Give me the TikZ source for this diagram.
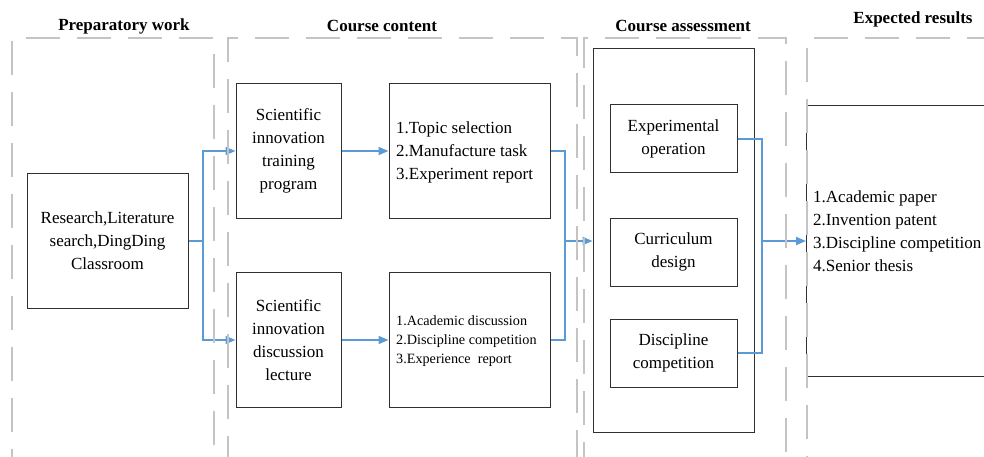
\documentclass[tikz,border=0pt]{standalone}
\usepackage{fontspec}
\setmainfont{Liberation Serif}
\usetikzlibrary{arrows.meta}
\definecolor{flowblue}{HTML}{5B9BD5}
\definecolor{lanegray}{HTML}{C4C4C4}
\definecolor{boxline}{HTML}{303030}
\tikzset{
  stepbox/.style={draw=boxline, line width=1pt, inner sep=0pt, align=center,
    font=\fontsize{17}{23}\selectfont},
  plainbox/.style={draw=boxline, line width=1pt, inner sep=0pt},
  listtext/.style={align=left, inner sep=0pt, font=\fontsize{17}{23}\selectfont},
  smalllist/.style={align=left, inner sep=0pt, font=\fontsize{14.2}{19}\selectfont},
  lanetitle/.style={inner sep=0pt, font=\fontsize{17}{20}\selectfont\bfseries},
  lane/.style={draw=lanegray, line width=2pt, dash pattern=on 34pt off 17pt},
  flow/.style={draw=flowblue, line width=1.7pt},
  flowarrow/.style={flow, -{Triangle[length=10pt,width=8pt]}},
}
\begin{document}
\begin{tikzpicture}[x=1pt,y=-1pt]
\clip (0,0) rectangle (984,457);
\fill[white] (0,0) rectangle (984,457);

% lane titles
\node[lanetitle] (t1) at (124,26) {Preparatory work};
\node[lanetitle] (t2) at (382,26) {Course content};
\node[lanetitle] (t3) at (683,26) {Course assessment};
\node[lanetitle] (t4) at (913,19) {Expected results};

% preparatory work
\node[stepbox, minimum width=161pt, minimum height=135pt] (res) at (107.5,241)
  {Research,Literature\\search,DingDing\\Classroom};

% course content
\node[stepbox, minimum width=105pt, minimum height=135pt] (train) at (288.5,151)
  {Scientific\\innovation\\training\\program};
\node[stepbox, minimum width=105pt, minimum height=135pt] (lect) at (288.5,340)
  {Scientific\\innovation\\discussion\\lecture};
\node[plainbox, minimum width=161pt, minimum height=135pt] (topic) at (469.5,151) {};
\node[listtext, anchor=west] (topictext) at (396,152)
  {1.Topic selection\\2.Manufacture task\\3.Experiment report};
\node[plainbox, minimum width=161pt, minimum height=135pt] (acad) at (469.5,340) {};
\node[smalllist, anchor=west] (acadtext) at (396,341)
  {1.Academic discussion\\2.Discipline competition\\3.Experience\ \ report};

% course assessment
\node[plainbox, minimum width=161pt, minimum height=383pt] (assess) at (673.5,240.5) {};
\node[stepbox, minimum width=127pt, minimum height=68pt] (exper) at (673.5,139) {Experimental\\operation};
\node[stepbox, minimum width=127pt, minimum height=68pt] (curri) at (673.5,252) {Curriculum\\design};
\node[stepbox, minimum width=127pt, minimum height=68pt] (disc) at (673.5,353) {Discipline\\competition};

% expected results
\node[plainbox, minimum width=200pt, minimum height=271pt, anchor=north west] (results) at (806,105) {};
\node[listtext, anchor=west] (restext) at (813,231)
  {1.Academic paper\\2.Invention patent\\3.Discipline competition\\4.Senior thesis};

% connectors
\coordinate (j1) at (203,241);
\coordinate (j2) at (565,241);
\coordinate (j3) at (762,241);
\draw[flow] (res.east) -- (j1);
\draw[flowarrow] (j1) |- (train.west);
\draw[flowarrow] (j1) |- (lect.west);
\draw[flowarrow] (train.east) -- (topic.west);
\draw[flowarrow] (lect.east) -- (acad.west);
\draw[flow] (topic.east) -| (j2);
\draw[flow] (acad.east) -| (j2);
\draw[flowarrow] (j2) -- (assess.west |- j2);
\draw[flow] (exper.east) -| (j3);
\draw[flow] (disc.east) -| (j3);
\draw[flowarrow] (j3) -- (results.west |- j3);

% swimlanes
\draw[lane, dash phase=13pt] (12,470) -- (12,38) -- (214,38) -- (214,470);
\draw[lane, dash phase=0pt] (228,470) -- (228,38) -- (577,38) -- (577,470);
\draw[lane, dash phase=6pt] (584,470) -- (584,38) -- (786,38) -- (786,470);
\draw[lane, dash phase=20pt] (807,470) -- (807,38) -- (1010,38) -- (1010,470);
\end{tikzpicture}
\end{document}
